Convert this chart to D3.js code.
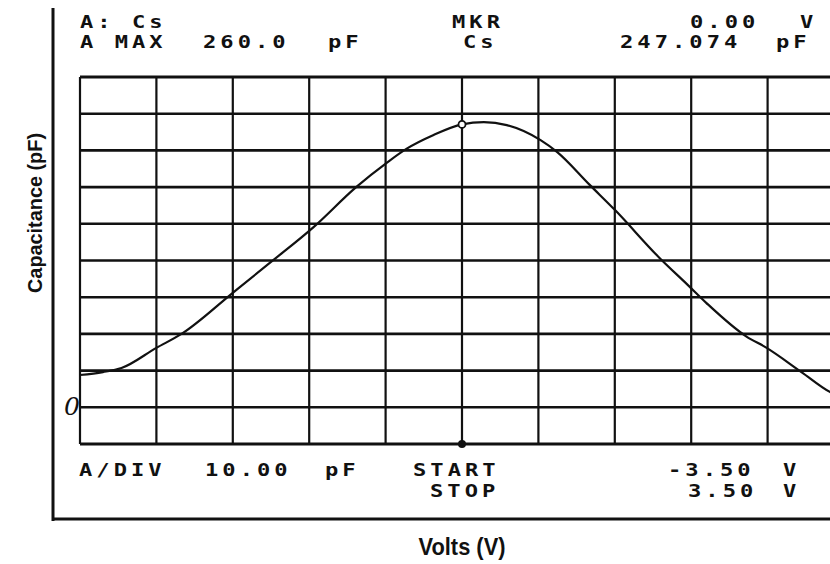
<!DOCTYPE html>
<html>
 <head>
   <meta charset="UTF-8">
   <title>C-V trace</title>
<script src="https://d3js.org/d3.v7.min.js"></script>
<style>
html, body{
  margin: 0;
  padding: 0;
  background: #fff;
}
svg{
  display: block;
}
.scr{
  font-family: "DejaVu Sans Mono", monospace;
  font-weight: bold;
  font-size: 17px;
  letter-spacing: 3.1px;
  fill: #111;
}
.lbl{
  font-family: "Liberation Sans", Arial, sans-serif;
  font-weight: bold;
  fill: #111;
}
</style>
 </head>
<body>
<div id="chart"></div>

<script>
var volts = [-3.5, -3.29, -3.12, -2.8, -2.57, -2.1, -1.75, -1.36, -0.97, -0.69, -0.51, -0.26,
             0, 0.2, 0.41, 0.72, 0.87, 1.17, 1.4, 1.81, 2.07, 2.24, 2.61, 2.78, 3.11, 3.37, 3.5];
var cap = [178.8, 179.6, 180.7, 186.2, 190.0, 201.2, 209.6, 219.1, 230.0, 236.6, 240.4, 244.2,
           247.074, 247.7, 246.9, 242.8, 239.6, 230.6, 223.8, 210.7, 203.3, 198.4, 189.2, 186.4, 179.6, 174.2, 172.5];

//Marker
var mkrV = 0.00;
var mkrC = 247.074;

//Screen annotations
var topRow1 = ["A: Cs", "MKR", "0.00", "V"];
var topRow2 = ["A MAX", "260.0", "pF", "Cs", "247.074", "pF"];
var botRow1 = ["A/DIV", "10.00", "pF", "START", "-3.50", "V"];
var botRow2 = ["STOP", "3.50", "V"];

//Axis limits
var vStart = -3.5, vStop = 3.5;
var aMax = 260, aDiv = 10, nDiv = 10;

var W = 830, H = 564;

var x = d3.scaleLinear().domain([vStart, vStop]).range([80, 844]);
var y = d3.scaleLinear().domain([aMax - aDiv*nDiv, aMax]).range([444, 77]);

var svg = d3.select("#chart").append("svg")
  .attr("width", W)
  .attr("height", H);

//outer frame (left and bottom)
svg.append("line").attr("x1", 53).attr("x2", 53).attr("y1", 8).attr("y2", 521)
  .attr("stroke", "#111").attr("stroke-width", 3);
svg.append("line").attr("x1", 52).attr("x2", W).attr("y1", 519).attr("y2", 519)
  .attr("stroke", "#111").attr("stroke-width", 3);

//grid
var vTicks = d3.range(0, nDiv + 1).map(function(i){ return vStart + i*(vStop - vStart)/nDiv; });
var cTicks = d3.range(0, nDiv + 1).map(function(i){ return aMax - i*aDiv; });

svg.append("g").selectAll("line")
  .data(vTicks)
  .enter().append("line")
  .attr("x1", function(d){ return x(d); })
  .attr("x2", function(d){ return x(d); })
  .attr("y1", y(aMax))
  .attr("y2", y(aMax - aDiv*nDiv))
  .attr("stroke", "#111")
  .attr("stroke-width", 2.2);

svg.append("g").selectAll("line")
  .data(cTicks)
  .enter().append("line")
  .attr("x1", x(vStart))
  .attr("x2", x(vStop))
  .attr("y1", function(d){ return y(d); })
  .attr("y2", function(d){ return y(d); })
  .attr("stroke", "#111")
  .attr("stroke-width", function(d, i){ return (i == 0 || i == nDiv) ? 3 : 2.6; });

//trace
var pts = volts.map(function(v, i){ return [v, cap[i]]; });
var line = d3.line()
  .x(function(d){ return x(d[0]); })
  .y(function(d){ return y(d[1]); })
  .curve(d3.curveMonotoneX);

svg.append("path")
  .datum(pts)
  .attr("d", line)
  .attr("fill", "none")
  .attr("stroke", "#111")
  .attr("stroke-width", 2.2);

//marker
svg.append("circle")
  .attr("cx", x(mkrV)).attr("cy", y(mkrC)).attr("r", 3.5)
  .attr("fill", "#fff").attr("stroke", "#111").attr("stroke-width", 1.8);
svg.append("circle")
  .attr("cx", x(mkrV)).attr("cy", y(aMax - aDiv*nDiv)).attr("r", 4)
  .attr("fill", "#111");

//screen text (wide plotter-style lettering)
function row(labels, xs, yb){
  svg.append("g").selectAll("text")
    .data(labels)
    .enter().append("text")
    .attr("class", "scr")
    .attr("transform", function(d, i){ return "translate(" + xs[i] + "," + yb + ") scale(1.3,1)"; })
    .text(function(d){ return d; });
}
row(topRow1, [80, 452, 690, 800], 28);
row(topRow2, [80, 203, 328, 463, 620, 776], 48);
row(botRow1, [79, 205, 325, 413, 668, 783], 476);
row(botRow2, [430, 688, 783], 497);

//handwritten zero reference
svg.append("text")
  .attr("x", 64).attr("y", 415)
  .style("font-family", "DejaVu Serif, serif")
  .style("font-style", "italic")
  .style("font-size", "25px")
  .style("fill", "#111")
  .text("0");

//axis titles
svg.append("text")
  .attr("class", "lbl")
  .attr("x", 462).attr("y", 555)
  .attr("text-anchor", "middle")
  .attr("textLength", 87)
  .attr("lengthAdjust", "spacingAndGlyphs")
  .style("font-size", "24px")
  .text("Volts (V)");

svg.append("text")
  .attr("class", "lbl")
  .attr("transform", "translate(42,213) rotate(-90)")
  .attr("text-anchor", "middle")
  .attr("textLength", 160)
  .attr("lengthAdjust", "spacingAndGlyphs")
  .style("font-size", "21px")
  .text("Capacitance (pF)");
</script>
</body>
</html>
